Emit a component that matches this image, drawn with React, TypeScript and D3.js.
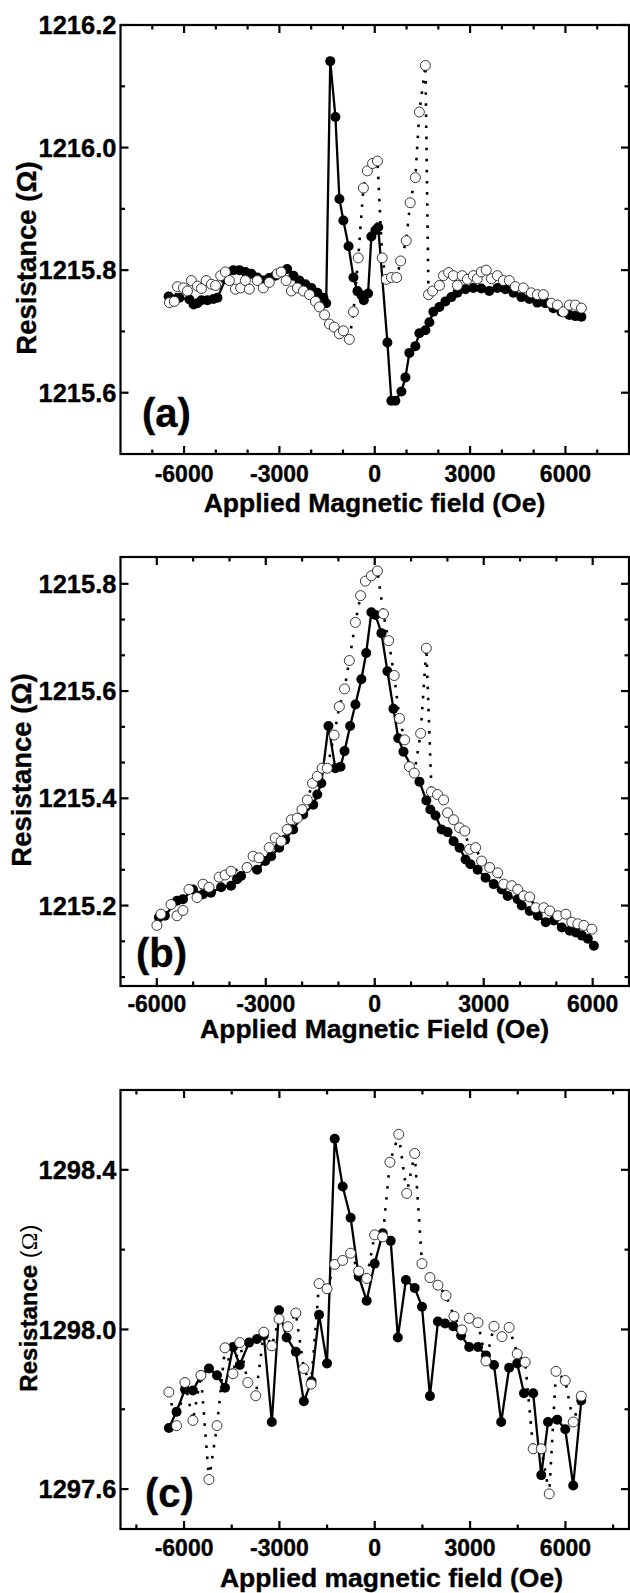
import React from 'react';
import * as d3 from 'd3';

// ---------- panel (a) ----------
const fieldA1 = [-6486, -6333, -6145, -5830, -5700, -5579, -5453, -5265, -5077, -4949, -4700, -4447, -4259, -4071, -3883, -3696, -3508, -3320, -3132, -2944, -2756, -2559, -2371, -2183, -1992, -1804, -1616, -1528, -1400, -1237, -1112, -987, -824, -670, -545, -417, -345, -210, -106, 22, 110, 398, 523, 648, 839, 965, 1090, 1278, 1403, 1594, 1719, 1845, 2033, 2224, 2412, 2600, 2850, 3101, 3352, 3602, 3859, 4110, 4362, 4614, 4865, 5117, 5369, 5620, 5872, 6124, 6312, 6502];
const resA1 = [1215.757, 1215.752, 1215.755, 1215.752, 1215.744, 1215.746, 1215.751, 1215.751, 1215.753, 1215.755, 1215.785, 1215.8, 1215.8, 1215.797, 1215.794, 1215.788, 1215.783, 1215.787, 1215.791, 1215.797, 1215.802, 1215.791, 1215.783, 1215.777, 1215.771, 1215.763, 1215.755, 1215.746, 1216.141, 1216.05, 1215.916, 1215.881, 1215.839, 1215.788, 1215.766, 1215.759, 1215.751, 1215.762, 1215.855, 1215.865, 1215.87, 1215.682, 1215.587, 1215.587, 1215.602, 1215.625, 1215.665, 1215.676, 1215.697, 1215.702, 1215.715, 1215.732, 1215.74, 1215.749, 1215.756, 1215.763, 1215.769, 1215.771, 1215.77, 1215.766, 1215.771, 1215.769, 1215.763, 1215.756, 1215.753, 1215.747, 1215.746, 1215.738, 1215.732, 1215.727, 1215.725, 1215.724];
const fieldA2 = [-6461, -6308, -6208, -6020, -5894, -5769, -5579, -5453, -5303, -5140, -5011, -4848, -4698, -4573, -4385, -4219, -4071, -3946, -3696, -3508, -3320, -3069, -2944, -2787, -2622, -2434, -2246, -2054, -1867, -1741, -1578, -1425, -1275, -1112, -987, -799, -670, -520, -357, -232, -69, 85, 235, 360, 523, 689, 814, 990, 1115, 1278, 1403, 1594, 1691, 1820, 2036, 2161, 2324, 2474, 2600, 2750, 2913, 3101, 3226, 3352, 3508, 3671, 3859, 4047, 4235, 4425, 4676, 4927, 5117, 5306, 5557, 5747, 5935, 6124, 6312, 6502];
const resA2 = [1215.747, 1215.749, 1215.773, 1215.771, 1215.766, 1215.783, 1215.774, 1215.77, 1215.783, 1215.777, 1215.775, 1215.791, 1215.797, 1215.783, 1215.769, 1215.771, 1215.783, 1215.769, 1215.783, 1215.771, 1215.78, 1215.794, 1215.797, 1215.783, 1215.766, 1215.771, 1215.766, 1215.76, 1215.749, 1215.74, 1215.727, 1215.712, 1215.707, 1215.696, 1215.701, 1215.687, 1215.732, 1215.82, 1215.934, 1215.962, 1215.974, 1215.978, 1215.82, 1215.785, 1215.788, 1215.788, 1215.815, 1215.848, 1215.91, 1215.951, 1216.058, 1216.134, 1215.76, 1215.766, 1215.775, 1215.791, 1215.796, 1215.791, 1215.775, 1215.791, 1215.785, 1215.791, 1215.786, 1215.797, 1215.8, 1215.786, 1215.791, 1215.783, 1215.783, 1215.773, 1215.771, 1215.763, 1215.76, 1215.76, 1215.746, 1215.743, 1215.732, 1215.743, 1215.743, 1215.738];

// ---------- panel (b) ----------
const fieldB1 = [-5942, -5777, -5445, -5280, -5005, -4728, -4508, -4230, -3956, -3791, -3681, -3513, -3239, -3016, -2851, -2632, -2464, -2244, -1969, -1692, -1582, -1472, -1275, -1085, -942, -832, -678, -533, -368, -236, -93, 19, 184, 349, 514, 648, 791, 1231, 1420, 1530, 1673, 1840, 2005, 2170, 2335, 2500, 2635, 2832, 3052, 3274, 3494, 3659, 3936, 4046, 4266, 4489, 4708, 4928, 5151, 5371, 5536, 5703, 5868, 6033];
const resB1 = [1215.178, 1215.181, 1215.209, 1215.212, 1215.23, 1215.221, 1215.224, 1215.234, 1215.237, 1215.249, 1215.255, 1215.271, 1215.267, 1215.283, 1215.292, 1215.308, 1215.323, 1215.342, 1215.37, 1215.388, 1215.407, 1215.428, 1215.535, 1215.456, 1215.459, 1215.488, 1215.535, 1215.575, 1215.622, 1215.671, 1215.747, 1215.742, 1215.708, 1215.637, 1215.567, 1215.512, 1215.487, 1215.431, 1215.396, 1215.379, 1215.368, 1215.342, 1215.337, 1215.32, 1215.308, 1215.286, 1215.277, 1215.267, 1215.252, 1215.24, 1215.23, 1215.218, 1215.212, 1215.2, 1215.19, 1215.181, 1215.169, 1215.172, 1215.159, 1215.153, 1215.15, 1215.144, 1215.138, 1215.125];
const fieldB2 = [-5997, -5887, -5610, -5445, -5280, -5115, -4893, -4728, -4563, -4285, -4120, -3956, -3516, -3349, -3184, -2906, -2741, -2577, -2409, -2299, -2134, -2003, -1857, -1714, -1582, -1450, -1307, -1118, -975, -832, -700, -533, -390, -258, -93, 74, 239, 382, 536, 681, 824, 956, 1088, 1264, 1420, 1563, 1728, 1895, 2005, 2170, 2335, 2480, 2610, 2777, 2942, 3164, 3384, 3549, 3771, 3936, 4101, 4266, 4431, 4653, 4818, 5041, 5261, 5426, 5590, 5758, 5978];
const resB2 = [1215.163, 1215.184, 1215.202, 1215.181, 1215.191, 1215.23, 1215.215, 1215.24, 1215.234, 1215.253, 1215.257, 1215.264, 1215.271, 1215.292, 1215.289, 1215.308, 1215.326, 1215.32, 1215.342, 1215.36, 1215.363, 1215.379, 1215.397, 1215.428, 1215.441, 1215.456, 1215.456, 1215.518, 1215.571, 1215.604, 1215.657, 1215.728, 1215.778, 1215.805, 1215.815, 1215.824, 1215.744, 1215.694, 1215.629, 1215.549, 1215.509, 1215.459, 1215.447, 1215.521, 1215.68, 1215.412, 1215.407, 1215.397, 1215.373, 1215.36, 1215.345, 1215.339, 1215.305, 1215.308, 1215.283, 1215.271, 1215.261, 1215.24, 1215.237, 1215.23, 1215.218, 1215.216, 1215.196, 1215.196, 1215.19, 1215.181, 1215.184, 1215.169, 1215.166, 1215.163, 1215.156];

// ---------- panel (c) ----------
const fieldC1 = [-6477, -6236, -5972, -5721, -5468, -5217, -4963, -4712, -4461, -4248, -3956, -3706, -3490, -3238, -3012, -2774, -2483, -2232, -1990, -1752, -1502, -1260, -1009, -759, -505, -254, -3, 251, 502, 727, 981, 1257, 1486, 1737, 1988, 2216, 2467, 2718, 2972, 3248, 3499, 3752, 3978, 4229, 4483, 4696, 4985, 5239, 5452, 5743, 5994, 6245, 6499];
const resC1 = [1297.753, 1297.794, 1297.85, 1297.847, 1297.885, 1297.902, 1297.885, 1297.854, 1297.956, 1297.911, 1297.967, 1297.976, 1297.985, 1297.768, 1298.048, 1297.98, 1297.944, 1297.82, 1297.87, 1298.037, 1297.915, 1298.478, 1298.358, 1298.28, 1298.133, 1298.072, 1298.165, 1298.241, 1298.222, 1297.98, 1298.124, 1298.104, 1298.057, 1297.833, 1298.02, 1298.015, 1298.008, 1297.985, 1297.956, 1297.956, 1297.935, 1297.911, 1297.768, 1297.904, 1297.915, 1297.84, 1297.84, 1297.635, 1297.768, 1297.774, 1297.75, 1297.609, 1297.822];
const fieldC2 = [-6477, -6236, -5972, -5721, -5468, -5217, -4963, -4712, -4461, -4248, -3994, -3743, -3490, -3238, -3012, -2734, -2483, -2232, -2003, -1752, -1502, -1260, -1009, -759, -505, -254, -3, 251, 477, 755, 1006, 1257, 1486, 1737, 1988, 2241, 2492, 2743, 2972, 3248, 3499, 3752, 4003, 4229, 4483, 4734, 4985, 5239, 5490, 5703, 5994, 6245, 6499];
const resC2 = [1297.843, 1297.759, 1297.867, 1297.772, 1297.885, 1297.624, 1297.759, 1297.954, 1297.889, 1297.967, 1297.867, 1297.834, 1297.993, 1297.959, 1298.026, 1298.007, 1298.041, 1297.902, 1297.863, 1298.115, 1298.102, 1298.163, 1298.173, 1298.191, 1298.146, 1298.128, 1298.237, 1298.232, 1298.419, 1298.489, 1298.341, 1298.441, 1298.165, 1298.13, 1298.111, 1298.085, 1298.033, 1297.999, 1298.028, 1298.017, 1297.921, 1298.008, 1297.982, 1298.005, 1297.939, 1297.918, 1297.701, 1297.701, 1297.588, 1297.895, 1297.872, 1297.768, 1297.833];

// tick values
const xTicksMain = [-6000, -3000, 0, 3000, 6000];
const yTicksA = [1215.6, 1215.8, 1216.0, 1216.2];
const yTicksB = [1215.2, 1215.4, 1215.6, 1215.8];
const yTicksC = [1297.6, 1298.0, 1298.4];

const LEFT = 120.5;
const RIGHT = 629;
const FONT = "'Liberation Sans', Arial, sans-serif";

type Pt = [number, number];

const zip = (xs: number[], ys: number[]): Pt[] => xs.map((v, i) => [v, ys[i]]);

interface PanelProps {
  top: number;
  bottom: number;
  xDomain: [number, number];
  yDomain: [number, number];
  yTicks: number[];
  xMinor: number[];
  yMinor: number[];
  filled: Pt[];
  open: Pt[];
  xLabelY: number;
  title: string;
  titleX: number;
  titleY: number;
  yTitleX: number;
  yTitleY: number;
  yTitleSize: number;
  serifOmega: boolean;
  tag: string;
  tagX: number;
  tagY: number;
}

const Panel = (p: PanelProps) => {
  const x = d3.scaleLinear().domain(p.xDomain).range([LEFT, RIGHT]);
  const y = d3.scaleLinear().domain(p.yDomain).range([p.bottom, p.top]);
  const line = d3.line<Pt>().x(d => x(d[0])).y(d => y(d[1]));
  const major = 8;
  const minor = 4.5;

  const xTick = (v: number, len: number, k: string) => (
    <g key={k}>
      <line x1={x(v)} x2={x(v)} y1={p.bottom} y2={p.bottom - len} />
      <line x1={x(v)} x2={x(v)} y1={p.top} y2={p.top + len} />
    </g>
  );
  const yTick = (v: number, len: number, k: string) => (
    <g key={k}>
      <line x1={LEFT} x2={LEFT + len} y1={y(v)} y2={y(v)} />
      <line x1={RIGHT} x2={RIGHT - len} y1={y(v)} y2={y(v)} />
    </g>
  );

  return (
    <g>
      {/* filled symbols, solid line */}
      <path d={line(p.filled) || ''} fill="none" stroke="#000" strokeWidth={2.3} />
      {p.filled.map((d, i) => (
        <circle key={'f' + i} cx={x(d[0])} cy={y(d[1])} r={5} fill="#000" />
      ))}
      {/* open symbols, dotted line */}
      <path d={line(p.open) || ''} fill="none" stroke="#000" strokeWidth={2.6} strokeDasharray="2.6 8.5" />
      {p.open.map((d, i) => (
        <circle key={'o' + i} cx={x(d[0])} cy={y(d[1])} r={5} fill="#fff" stroke="#222" strokeWidth={0.9} />
      ))}

      {/* frame and ticks */}
      <rect x={LEFT} y={p.top} width={RIGHT - LEFT} height={p.bottom - p.top} fill="none" stroke="#000" strokeWidth={2.2} />
      <g stroke="#000" strokeWidth={2.2}>
        {xTicksMain.map(v => xTick(v, major, 'xm' + v))}
        {p.xMinor.map(v => xTick(v, minor, 'xn' + v))}
        {p.yTicks.map(v => yTick(v, major, 'ym' + v))}
        {p.yMinor.map(v => yTick(v, minor, 'yn' + v))}
      </g>

      <g fontFamily={FONT} fontWeight="bold" fill="#000" stroke="#000" strokeWidth={0.35}>
        {xTicksMain.map(v => (
          <text key={'xl' + v} x={x(v)} y={p.xLabelY} fontSize={23} textAnchor="middle">{v}</text>
        ))}
        {p.yTicks.map(v => (
          <text key={'yl' + v} x={116.5} y={y(v)} fontSize={25.5} textAnchor="end" dy="0.36em">{v.toFixed(1)}</text>
        ))}
        <text x={p.titleX} y={p.titleY} fontSize={26.5} textAnchor="middle">{p.title}</text>
        <text
          transform={`translate(${p.yTitleX},${p.yTitleY}) rotate(-90)`}
          fontSize={p.yTitleSize}
          textAnchor="middle"
          dy="0.36em"
        >
          Resistance{' '}
          {p.serifOmega ? (
            <tspan fontWeight="normal" strokeWidth={0}>
              (<tspan fontFamily="'Liberation Serif', serif">Ω</tspan>)
            </tspan>
          ) : (
            <tspan>(Ω)</tspan>
          )}
        </text>
        <text x={p.tagX} y={p.tagY} fontSize={40}>{p.tag}</text>
      </g>
    </g>
  );
};

const range = (a: number, b: number, s: number, skip: number) =>
  d3.range(a, b + 1, s).filter(v => v % skip !== 0);

const App = () => {
  const yMinorB = d3.range(-2, 10)
    .filter(k => k % 3 !== 0)
    .map(k => 1215.2 + (k * 0.2) / 3)
    .filter(v => v > 1215.05 && v < 1215.85);

  return (
    <svg width={630} height={1593} style={{ position: 'absolute', left: 0, top: 0, background: '#fff' }}>
      <rect width={630} height={1593} fill="#fff" />
      <Panel
        top={25} bottom={454}
        xDomain={[-8000, 8000]} yDomain={[1215.5, 1216.2]}
        yTicks={yTicksA}
        xMinor={range(-7000, 7000, 1000, 3000)}
        yMinor={[1215.7, 1215.9, 1216.1]}
        filled={zip(fieldA1, resA1)} open={zip(fieldA2, resA2)}
        xLabelY={482}
        title="Applied Magnetic field (Oe)" titleX={374.5} titleY={512}
        yTitleX={26} yTitleY={258} yTitleSize={27.5} serifOmega={false}
        tag="(a)" tagX={142} tagY={427}
      />
      <Panel
        top={557} bottom={986}
        xDomain={[-7000, 7000]} yDomain={[1215.05, 1215.85]}
        yTicks={yTicksB}
        xMinor={range(-6000, 6000, 1000, 3000)}
        yMinor={yMinorB}
        filled={zip(fieldB1, resB1)} open={zip(fieldB2, resB2)}
        xLabelY={1012}
        title="Applied Magnetic Field (Oe)" titleX={374.6} titleY={1038}
        yTitleX={21} yTitleY={770} yTitleSize={27.5} serifOmega={false}
        tag="(b)" tagX={136} tagY={967}
      />
      <Panel
        top={1090} bottom={1529}
        xDomain={[-8000, 8000]} yDomain={[1297.5, 1298.6]}
        yTicks={yTicksC}
        xMinor={[-7500, -4500, -1500, 1500, 4500, 7500]}
        yMinor={[1297.8, 1298.2]}
        filled={zip(fieldC1, resC1)} open={zip(fieldC2, resC2)}
        xLabelY={1556}
        title="Applied magnetic field (Oe)" titleX={391.5} titleY={1587}
        yTitleX={28} yTitleY={1308} yTitleSize={24} serifOmega={true}
        tag="(c)" tagX={145} tagY={1507}
      />
    </svg>
  );
};

export default App;
